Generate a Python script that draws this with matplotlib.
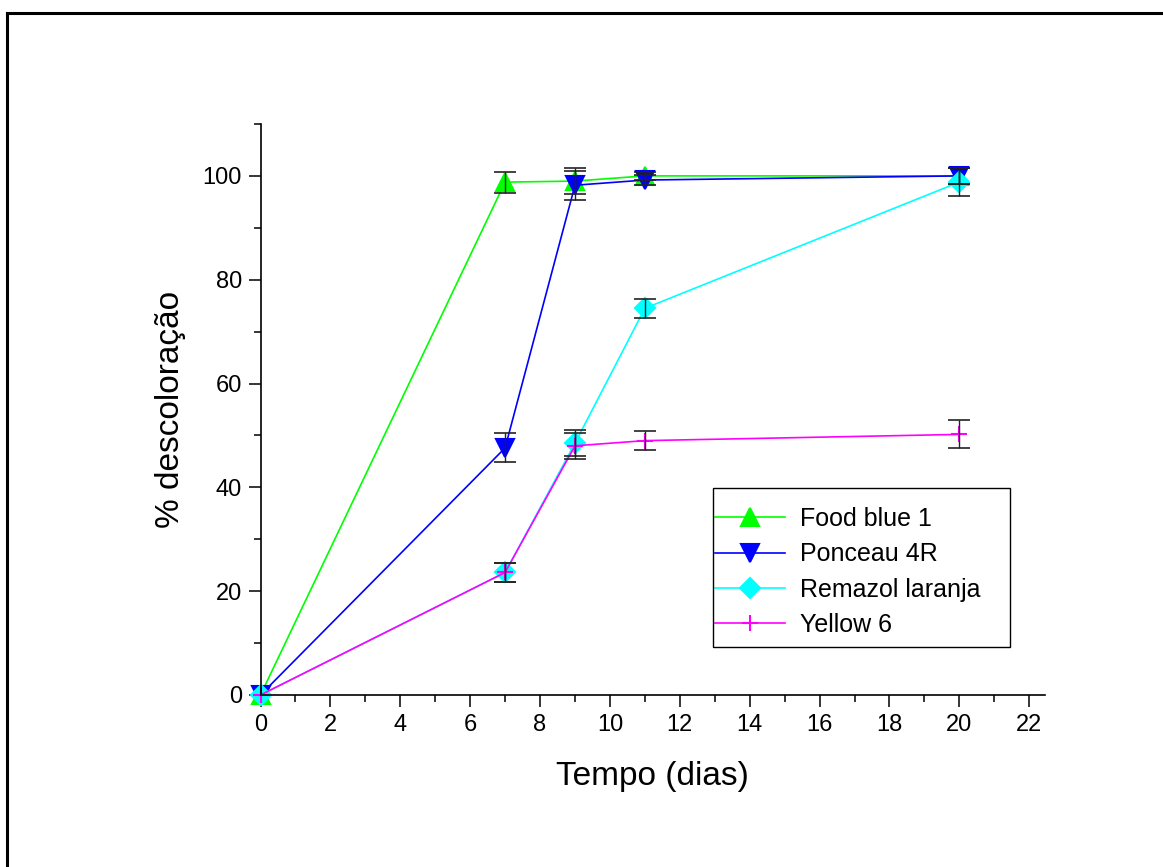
import matplotlib
matplotlib.use("Agg")
import matplotlib.pyplot as plt
from matplotlib.lines import Line2D
from matplotlib.patches import Rectangle
from matplotlib.ticker import MultipleLocator

plt.rcParams['font.family'] = ['Liberation Sans', 'DejaVu Sans']

dias = [0, 7, 9, 11, 20]

food_blue = [0, 98.8, 99.0, 100.0, 100.0]
food_blue_err = [0, 2.0, 2.5, 0.8, 1.5]

ponceau = [0, 47.6, 98.2, 99.2, 100.0]
ponceau_err = [0, 2.8, 2.8, 1.0, 1.5]

remazol = [0, 23.6, 48.5, 74.5, 98.8]
remazol_err = [0, 1.8, 2.5, 1.8, 2.7]

yellow = [0, 23.6, 48.0, 49.0, 50.2]
yellow_err = [0, 1.8, 2.5, 1.8, 2.7]

fig = plt.figure(figsize=(11.63, 8.67), dpi=100)
ax = fig.add_axes([0.224, 0.1984, 0.6745, 0.6586])

series = [
    (food_blue, food_blue_err, '#00ff00', '^', 12.5, 'Food blue 1'),
    (ponceau, ponceau_err, '#0000ff', 'v', 12.5, 'Ponceau 4R'),
    (remazol, remazol_err, '#00ffff', 'D', 10, 'Remazol laranja'),
    (yellow, yellow_err, '#ff00ff', '+', 12, 'Yellow 6'),
]

handles = []
for y, e, c, m, ms, lab in series:
    ax.errorbar(dias, y, yerr=e, fmt='none', ecolor='#222222', elinewidth=1.0,
                capsize=8, capthick=1.2, zorder=3)
    h, = ax.plot(dias, y, color=c, lw=1.2, marker=m, ms=ms, mec=c, mfc=c,
                 mew=1.5, label=lab, zorder=2, clip_on=False)
    handles.append(h)

ax.set_xlim(0, 22.45)
ax.set_ylim(0, 110)
ax.xaxis.set_major_locator(MultipleLocator(2))
ax.xaxis.set_minor_locator(MultipleLocator(1))
ax.yaxis.set_major_locator(MultipleLocator(20))
ax.yaxis.set_minor_locator(MultipleLocator(10))
ax.spines['top'].set_visible(False)
ax.spines['right'].set_visible(False)
for s in ['left', 'bottom']:
    ax.spines[s].set_linewidth(1.2)
ax.tick_params(which='major', direction='out', length=8.5, width=1.1,
               labelsize=17, pad=5)
ax.tick_params(which='minor', direction='out', length=5, width=1.1)

ax.set_xlabel('Tempo (dias)', fontsize=24, labelpad=18)
ax.set_ylabel('% descoloração', fontsize=24, labelpad=12)

# legend without its own frame, the box is drawn separately
leg = ax.legend(handles=handles, loc='upper left',
                bbox_to_anchor=(715 / 1163, 1 - 507 / 867),
                bbox_transform=fig.transFigure, fontsize=18, frameon=False,
                handlelength=2.8, handletextpad=0.6, labelspacing=0.45,
                borderpad=0, borderaxespad=0)
fig.add_artist(Rectangle((713 / 1163, 1 - 647 / 867), 297 / 1163, 159 / 867,
                         transform=fig.transFigure, fill=False,
                         edgecolor='black', lw=1.0))

# frame around the page (only top and left edges visible)
fig.add_artist(Line2D([7 / 1163, 7 / 1163], [-0.1, 1 - 13 / 867],
                      transform=fig.transFigure, color='black', lw=2.2))
fig.add_artist(Line2D([7 / 1163, 1.1], [1 - 13 / 867, 1 - 13 / 867],
                      transform=fig.transFigure, color='black', lw=2.2))

fig.savefig('out.png', dpi=100)
